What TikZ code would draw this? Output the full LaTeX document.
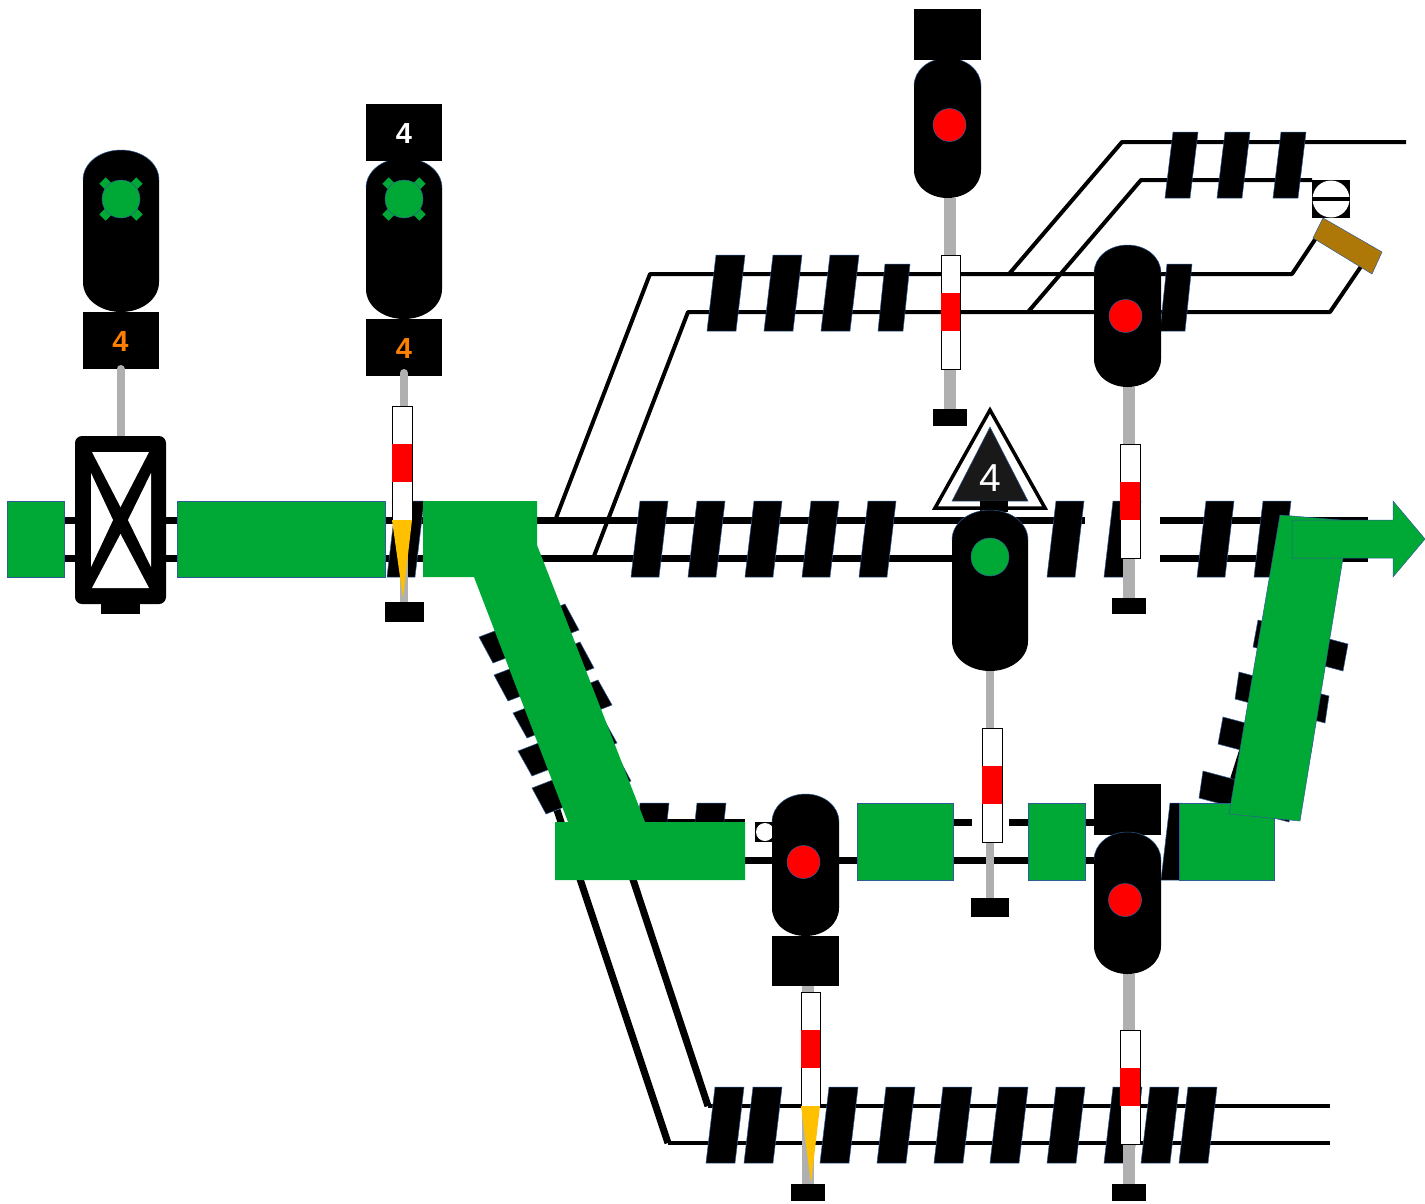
\documentclass[tikz,border=0pt]{standalone}
\usepackage{fontspec}
\setmainfont{Liberation Sans}
\definecolor{grn}{HTML}{00A835}
\definecolor{edgeb}{HTML}{2F5C96}
\definecolor{polegray}{HTML}{B0B0B0}
\definecolor{amber}{HTML}{FFC000}
\definecolor{brownarm}{HTML}{AE7808}
\definecolor{numorange}{HTML}{FF8000}
\tikzset{
  railthin/.style={draw=black,line width=4pt},
  railthick/.style={draw=black,line width=7pt},
  raildiag/.style={draw=black,line width=7pt},
  sleeperbar/.style={fill=black,draw=edgeb,line width=.5pt},
  greenarea/.style={fill=grn,draw=edgeb,line width=.5pt},
  greenflat/.style={fill=grn},
  greenarm/.style={draw=grn,line width=9pt},
  whitemark/.style={fill=white,draw=black,line width=1pt},
  redmark/.style={fill=red},
  polethin/.style={draw=polegray,line width=8pt,line cap=round},
  polethick/.style={draw=polegray,line width=12pt},
  lampshape/.style={draw=edgeb,line width=.5pt},
  plate/.style={fill=black},
  numbold/.style={font=\bfseries\fontsize{29}{29}\selectfont,inner sep=0pt},
}
% sleeper: bottom-left x, top y, bottom y, width, skew
\newcommand{\sleepbar}[5]{\path[sleeperbar] (#1,#3)--({#1+#4},#3)--({#1+#4+#5},#2)--({#1+#5},#2)--cycle;}
% diagonal sleeper: top-left corner, along vector, across vector
\newcommand{\diagbar}[6]{\path[sleeperbar] (#1,#2)--({#1+#3},{#2+#4})--({#1+#3+#5},{#2+#4+#6})--({#1+#5},{#2+#6})--cycle;}
% signal head: x1,y1,x2,y2,dome height
\newcommand{\headshape}[5]{%
  \path[fill=black] (#1,{#2+#5})
   .. controls (#1,{#2+.42*#5}) and ({#1+.23*(#3-#1)},#2) .. ({.5*(#1+#3)},#2)
   .. controls ({#3-.23*(#3-#1)},#2) and (#3,{#2+.42*#5}) .. (#3,{#2+#5})
   -- (#3,{#4-#5})
   .. controls (#3,{#4-.42*#5}) and ({#3-.23*(#3-#1)},#4) .. ({.5*(#1+#3)},#4)
   .. controls ({#1+.23*(#3-#1)},#4) and (#1,{#4-.42*#5}) .. (#1,{#4-#5}) -- cycle;
  \path[lampshape] (#1,{#2+#5})
   .. controls (#1,{#2+.42*#5}) and ({#1+.23*(#3-#1)},#2) .. ({.5*(#1+#3)},#2)
   .. controls ({#3-.23*(#3-#1)},#2) and (#3,{#2+.42*#5}) .. (#3,{#2+#5});}
% marker: x1,x2,ytop (three 38 high bands)
\newcommand{\markerbar}[3]{%
  \path[whitemark] (#1,#3) rectangle (#2,{#3+114});
  \path[redmark] (#1,{#3+38}) rectangle (#2,{#3+76});}
\begin{document}
\begin{tikzpicture}[x=1pt,y=-1pt]
\useasboundingbox (0,0) rectangle (1425,1203);
\fill[white] (0,0) rectangle (1425,1203);

% ---------- rails ----------
\draw[railthick] (7,520) -- (1085,520);
\draw[railthick] (7,558) -- (990,558);
\draw[railthick] (1160,520) -- (1368,520);
\draw[railthick] (1160,558) -- (1368,558);
\draw[railthin,line join=round] (556,518) -- (650,274) -- (1292,274) -- (1318,235);
\draw[railthin,line join=round] (594,556) -- (688,312) -- (1330,312) -- (1362,265);
\draw[railthin,line join=round] (1009,274) -- (1122,142) -- (1406,142);
\draw[railthin,line join=round] (1028,312) -- (1141,180) -- (1312,180);
\draw[raildiag] (557,810) -- (668,1143);
\draw[raildiag] (610,810) -- (708,1106);
\draw[railthin] (668,1143) -- (1330,1143);
\draw[railthin] (708,1106) -- (1330,1106);
\draw[railthick] (600,822) -- (745,822);
\draw[railthick] (745,860) -- (1094,860);
\draw[railthick] (953,822) -- (972,822);
\draw[railthick] (1009,822) -- (1094,822);
\draw[raildiag] (1227,800) -- (1265,680);

% ---------- sleepers ----------
\foreach \sx in {707,764,821} {\sleepbar{\sx}{255}{331}{29}{9}}
\sleepbar{878}{264}{331}{25}{7}
\sleepbar{1160}{264}{331}{25}{7}
\foreach \sx in {1165,1217,1273} {\sleepbar{\sx}{132}{198}{25}{8}}
\foreach \sx in {387,631,688,745,802,859,1047,1104,1197,1254} {\sleepbar{\sx}{501}{577}{28}{9}}
\foreach \sx in {706,744,820,877,934,990,1047,1104,1141,1179} {\sleepbar{\sx}{1087}{1163}{29}{9}}
\sleepbar{636}{803}{840}{29}{4}
\sleepbar{693}{803}{840}{29}{4}
\path[sleeperbar] (1161,880) -- (1170,803) -- (1182,803) -- (1182,880) -- cycle;
% diagonal sleepers, left branch
\diagbar{479}{637}{86}{-33}{14}{26}
\diagbar{494}{675}{86}{-33}{14}{26}
\diagbar{513}{713}{85}{-33}{14}{25}
\diagbar{518}{751}{85}{-33}{14}{25}
\diagbar{532}{788}{85}{-33}{14}{26}
% diagonal sleepers, right branch
\diagbar{1203}{771}{90}{24}{-4}{27}
\diagbar{1223}{717}{90}{24}{-5}{27}
\diagbar{1239}{672}{90}{24}{-4}{27}
\diagbar{1258}{620}{90}{24}{-5}{27}

% ---------- distant-signal box and arm ----------
\path[plate] (1312,180) rectangle (1350,218);
\fill[white] (1331,199) circle[radius=18.5];
\draw[draw=black,line width=4pt] (1312,199) -- (1350,199);
\path[fill=brownarm,draw=edgeb,line width=.5pt] (1323,218) -- (1382,252) -- (1372,274) -- (1313,238) -- cycle;

% ---------- green route ----------
\path[greenarea] (7,501) rectangle (64,577);
\path[greenarea] (177,501) rectangle (385,577);
\path[greenflat] (423,501) -- (537,501) -- (537,545) -- (645,822) -- (745,822) -- (745,880) -- (555,880) -- (555,822) -- (568,822) -- (474,577) -- (423,577) -- cycle;
\path[greenarea] (857,803) rectangle (953,880);
\path[greenarea] (1028,803) rectangle (1085,880);
\path[greenarea] (1179,803) rectangle (1274,880);
\path[greenarea] (1280,515) -- (1340,520) -- (1343,558) -- (1300,821) -- (1229,814) -- cycle;
\path[greenarea] (1292,520) -- (1393,520) -- (1393,501) -- (1425,539) -- (1393,577) -- (1393,558) -- (1292,558) -- cycle;

% ---------- block symbol ----------
\draw[polethin] (120.5,369) -- (120.5,440);
\path[plate] (101,600) rectangle (140,614);
\path[fill=black,rounded corners=7pt] (75,436) rectangle (166,604);
\fill[white] (92,452) -- (149,452) -- (120.5,507) -- cycle;
\fill[white] (92,588) -- (149,588) -- (120.5,534) -- cycle;
\fill[white] (91,473) -- (113,520) -- (91,567) -- cycle;
\fill[white] (151,473) -- (128,520) -- (151,567) -- cycle;

% ---------- signal 1 ----------
\headshape{83}{150}{159}{312}{30}
\path[plate] (83,312) rectangle (159,369);
\draw[polethin] (120.5,369) -- (120.5,375);
\draw[greenarm] (102.5,180.5) -- (139.5,217.5);
\draw[greenarm] (139.5,180.5) -- (102.5,217.5);
\path[greenarea] (121,199) circle[radius=19];
\node[numbold,text=numorange] (num1) at (120.5,342) {4};

% ---------- signal 2 ----------
\draw[polethin] (404,376) -- (404,603);
\headshape{366}{158}{442}{319}{30}
\path[plate] (366,104) rectangle (442,161);
\path[plate] (366,319) rectangle (442,376);
\draw[polethin] (404,373) -- (404,406);
\draw[greenarm] (385.5,180.5) -- (422.5,217.5);
\draw[greenarm] (422.5,180.5) -- (385.5,217.5);
\path[greenarea] (404,199) circle[radius=19];
\node[numbold,text=white] (num2top) at (404,134) {4};
\node[numbold,text=numorange] (num2) at (404,349) {4};
\markerbar{392}{412}{406}
\fill[amber] (392,520) -- (412,520) -- (403,598) -- cycle;
\path[plate] (385,602) rectangle (424,622);

% ---------- signal top middle ----------
\draw[polethick] (950,198) -- (950,410);
\headshape{914}{58}{981}{198}{28}
\path[plate] (914,9) rectangle (981,60);
\path[lampshape,fill=red] (949.5,125) circle[radius=16.5];
\markerbar{941}{960}{255}
\path[plate] (933,409) rectangle (967,426);

% ---------- signal upper right ----------
\draw[polethick] (1129,387) -- (1129,598);
\headshape{1094}{245}{1161}{387}{28}
\path[lampshape,fill=red] (1125.5,316) circle[radius=16.5];
\markerbar{1120}{1140}{444}
\path[plate] (1112,598) rectangle (1146,614);

% ---------- speed triangle and green signal ----------
\path[fill=white,draw=black,line width=3.5pt,line join=miter] (990,410) -- (1045,508) -- (935,508) -- cycle;
\path[fill=black!90,draw=edgeb,line width=.5pt] (990,427) -- (1028,501) -- (952,501) -- cycle;
\node[inner sep=0pt,text=white,font=\fontsize{39}{39}\selectfont] (num3) at (990,478) {4};
\path[plate] (980,501) rectangle (1008,512);
\draw[polethin] (990,668) -- (990,900);
\headshape{952}{510}{1028}{671}{30}
\path[greenarea] (990,557) circle[radius=19];
\markerbar{982}{1002}{728}
\path[plate] (971,898) rectangle (1009,917);

% ---------- signal lower middle ----------
\path[plate] (755,822) rectangle (775,842);
\fill[white] (765,832) circle[radius=9];
\draw[polethick] (808,986) -- (808,1184);
\headshape{772}{794}{839}{936}{28}
\path[plate] (772,936) rectangle (839,986);
\path[lampshape,fill=red] (803.5,862) circle[radius=16.5];
\markerbar{801}{820}{992}
\fill[amber] (801,1106) -- (820,1106) -- (811,1183) -- cycle;
\path[plate] (791,1184) rectangle (825,1201);

% ---------- signal lower right ----------
\draw[polethick] (1129,974) -- (1129,1184);
\path[plate] (1094,784) rectangle (1161,835);
\headshape{1094}{832}{1161}{974}{28}
\path[lampshape,fill=red] (1125,900) circle[radius=16.5];
\markerbar{1120}{1140}{1030}
\path[plate] (1112,1184) rectangle (1146,1201);
\end{tikzpicture}
\end{document}
